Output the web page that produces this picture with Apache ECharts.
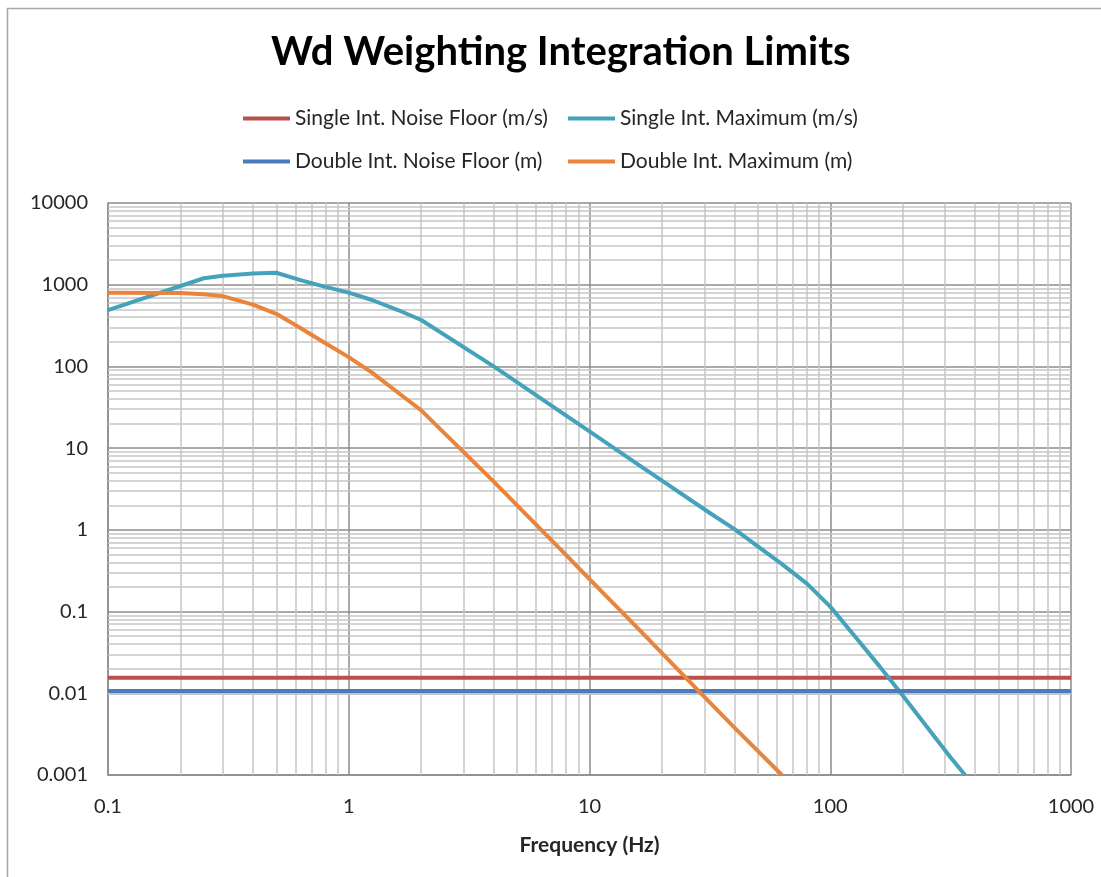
<!DOCTYPE html>
<html>
<head>
<meta charset="utf-8">
<title>Wd Weighting Integration Limits</title>
<script src="https://cdn.jsdelivr.net/npm/echarts@6/dist/echarts.min.js"></script>
<style>
  html, body { margin: 0; padding: 0; background: #fff; }
  #chart { width: 1101px; height: 877px; }
</style>
</head>
<body>
<div id="chart"></div>
<script>
const titleText = 'Wd Weighting Integration Limits'
const seriesNames = [
  'Single Int. Noise Floor (m/s)',
  'Single Int. Maximum (m/s)',
  'Double Int. Noise Floor (m)',
  'Double Int. Maximum (m)',
]

// noise floors are flat over the whole frequency range
const floorFreq = [0.1, 1000]
const singleFloor = [0.0155, 0.0155]
const doubleFloor = [0.0107, 0.0107]

const singleMaxFreq = [0.1, 0.25, 0.3, 0.4, 0.5, 0.63, 0.8, 1, 1.25, 1.6, 2, 4, 8, 10, 16, 20, 31.5, 40, 63, 80, 100, 125, 160, 200, 250, 315, 363]
const singleMaxVal = [490, 1200, 1290, 1370, 1400, 1140, 940, 800, 650, 490, 370, 100, 25, 16, 6.25, 4, 1.62, 1.02, 0.38, 0.22, 0.115, 0.052, 0.0215, 0.0094, 0.004, 0.00166, 0.001]

const doubleMaxFreq = [0.1, 0.2, 0.25, 0.3, 0.4, 0.5, 0.63, 0.8, 1, 1.25, 1.6, 2, 4, 8, 10, 16, 20, 31.5, 40, 63]
const doubleMaxVal = [800, 790, 765, 725, 570, 440, 295, 192, 130, 84, 48, 29, 3.9, 0.49, 0.25, 0.061, 0.031, 0.0078, 0.0038, 0.001]

const xDecades = [-1, 0, 1, 2]
const yDecades = [-3, -2, -1, 0, 1, 2, 3]

const colors = ['#b9504c', '#44a3bb', '#4a7cbb', '#e9843a']

function pairs(xs, ys) {
  return xs.map((x, i) => [x, ys[i]])
}

function minorValues(decades) {
  let out = []
  decades.forEach((e) => {
    for (let k = 2; k <= 9; k++) {
      out.push(+(k * Math.pow(10, e)).toPrecision(3))
    }
  })
  return out
}

function fmt(v) {
  return String(parseFloat(Number(v).toPrecision(4)))
}

const chart = echarts.init(document.getElementById('chart'))

const legendBase = {
  orient: 'vertical',
  top: 102,
  itemGap: 20,
  itemWidth: 47,
  itemHeight: 4,
  icon: 'rect',
  textStyle: { fontSize: 21, color: '#262626', lineHeight: 23 },
}

const lineSeries = (name, data, color) => ({
  name: name,
  type: 'line',
  data: data,
  symbol: 'none',
  smooth: false,
  z: 3,
  lineStyle: { width: 4, color: color },
  itemStyle: { color: color },
})

chart.setOption({
  animation: false,
  textStyle: { fontFamily: 'Lato, sans-serif' },
  title: {
    text: titleText,
    left: 266,
    top: 27,
    textStyle: { fontSize: 40, fontWeight: 'bold', color: '#000' },
  },
  legend: [
    Object.assign({}, legendBase, { left: 238, data: [seriesNames[0], seriesNames[2]] }),
    Object.assign({}, legendBase, { left: 563, data: [seriesNames[1], seriesNames[3]] }),
  ],
  graphic: [
    {
      type: 'rect',
      left: 5,
      top: 6,
      silent: true,
      shape: { width: 1200, height: 1000 },
      style: { fill: null, stroke: '#a6a6a6', lineWidth: 1.5 },
    },
  ],
  grid: { left: 108, right: 30, top: 203, bottom: 102 },
  xAxis: {
    type: 'log',
    logBase: 10,
    min: 0.1,
    max: 1000,
    splitNumber: 4,
    name: 'Frequency (Hz)',
    nameLocation: 'middle',
    nameGap: 60,
    nameTextStyle: { fontSize: 21, fontWeight: 'bold', color: '#262626' },
    axisLine: { lineStyle: { color: '#8c8c8c', width: 1.5 } },
    axisTick: { show: false },
    axisLabel: { fontSize: 20, color: '#262626', margin: 22, formatter: fmt },
    splitLine: { show: true, lineStyle: { color: '#8c8c8c', width: 1.5 } },
  },
  yAxis: {
    type: 'log',
    logBase: 10,
    min: 0.001,
    max: 10000,
    splitNumber: 7,
    axisLine: { show: true, lineStyle: { color: '#8c8c8c', width: 1.5 } },
    axisTick: { show: false },
    axisLabel: { fontSize: 20, color: '#262626', margin: 20, formatter: fmt },
    splitLine: { show: true, lineStyle: { color: '#8c8c8c', width: 1.5 } },
  },
  series: [
    {
      name: 'minor grid',
      type: 'line',
      data: [],
      silent: true,
      z: 1,
      markLine: {
        silent: true,
        z: 1,
        symbol: ['none', 'none'],
        label: { show: false },
        lineStyle: { color: '#c6c6c6', width: 1.5, type: 'solid' },
        emphasis: { disabled: true },
        data: minorValues(xDecades).map((v) => ({ xAxis: v }))
          .concat(minorValues(yDecades).map((v) => ({ yAxis: v }))),
      },
    },
    lineSeries(seriesNames[0], pairs(floorFreq, singleFloor), colors[0]),
    lineSeries(seriesNames[1], pairs(singleMaxFreq, singleMaxVal), colors[1]),
    lineSeries(seriesNames[2], pairs(floorFreq, doubleFloor), colors[2]),
    lineSeries(seriesNames[3], pairs(doubleMaxFreq, doubleMaxVal), colors[3]),
  ],
})
</script>
</body>
</html>
